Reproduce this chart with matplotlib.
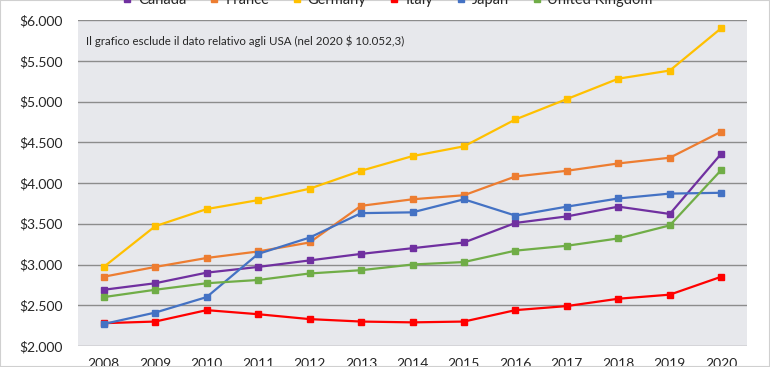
import matplotlib.pyplot as plt
from matplotlib.ticker import FuncFormatter, MultipleLocator
from matplotlib.patches import Rectangle

years = ['2008', '2009', '2010', '2011', '2012', '2013', '2014',
         '2015', '2016', '2017', '2018', '2019', '2020']

canada = [2690, 2770, 2900, 2970, 3050, 3130, 3200, 3270, 3510, 3590, 3710, 3620, 4360]
france = [2850, 2970, 3080, 3160, 3270, 3720, 3800, 3850, 4080, 4150, 4240, 4310, 4630]
germany = [2970, 3470, 3680, 3790, 3930, 4150, 4330, 4450, 4780, 5030, 5280, 5380, 5900]
italy = [2280, 2300, 2440, 2390, 2330, 2300, 2290, 2300, 2440, 2490, 2580, 2630, 2850]
japan = [2270, 2410, 2600, 3130, 3330, 3630, 3640, 3800, 3600, 3710, 3810, 3870, 3880]
uk = [2600, 2690, 2770, 2810, 2890, 2930, 3000, 3030, 3170, 3230, 3320, 3480, 4160]

series = [
    ('Canada', canada, '#7030A0'),
    ('France', france, '#ED7D31'),
    ('Germany', germany, '#FFC000'),
    ('Italy', italy, '#FF0000'),
    ('Japan', japan, '#4472C4'),
    ('United Kingdom', uk, '#70AD47'),
]

plt.rcParams['font.family'] = ['Lato', 'DejaVu Sans']

fig = plt.figure(figsize=(7.7, 3.67), dpi=100)
ax = fig.add_axes([78 / 770, 1 - 346 / 367, 669 / 770, 326 / 367])
ax.set_facecolor('#E7E8EC')

x = list(range(len(years)))
for name, vals, color in series:
    ax.plot(x, vals, color=color, lw=1.6, marker='s', markersize=4, label=name)

ax.set_xlim(-0.5, len(years) - 0.5)
ax.set_ylim(2000, 6000)
ax.yaxis.set_major_locator(MultipleLocator(500))
ax.yaxis.set_major_formatter(FuncFormatter(lambda v, p: '\\$' + f'{int(v):,}'.replace(',', '.')))
ax.set_xticks(x)
ax.set_xticklabels(years)
ax.grid(axis='y', color='#8C8C8C', lw=1)
ax.set_axisbelow(True)
for s in ax.spines.values():
    s.set_visible(False)
ax.tick_params(length=0, labelsize=10, colors='#262626')
ax.tick_params(axis='x', pad=9)
ax.tick_params(axis='y', pad=11)

ax.text(0.012, 0.935, 'Il grafico esclude il dato relativo agli USA (nel 2020 $ 10.052,3)',
        transform=ax.transAxes, fontsize=8.3, color='#262626', va='center', parse_math=False)

fig.legend(loc='center', bbox_to_anchor=(0.5, 1.0), ncol=6, frameon=False,
           fontsize=10.5, handlelength=1.4, columnspacing=1.2, handletextpad=0.05,
           labelcolor='#262626')

fig.patches.append(Rectangle((0, 0), 1, 1, transform=fig.transFigure, fill=False,
                             edgecolor='#D0D0D0', lw=1.5))

fig.savefig('out.png', dpi=100)
